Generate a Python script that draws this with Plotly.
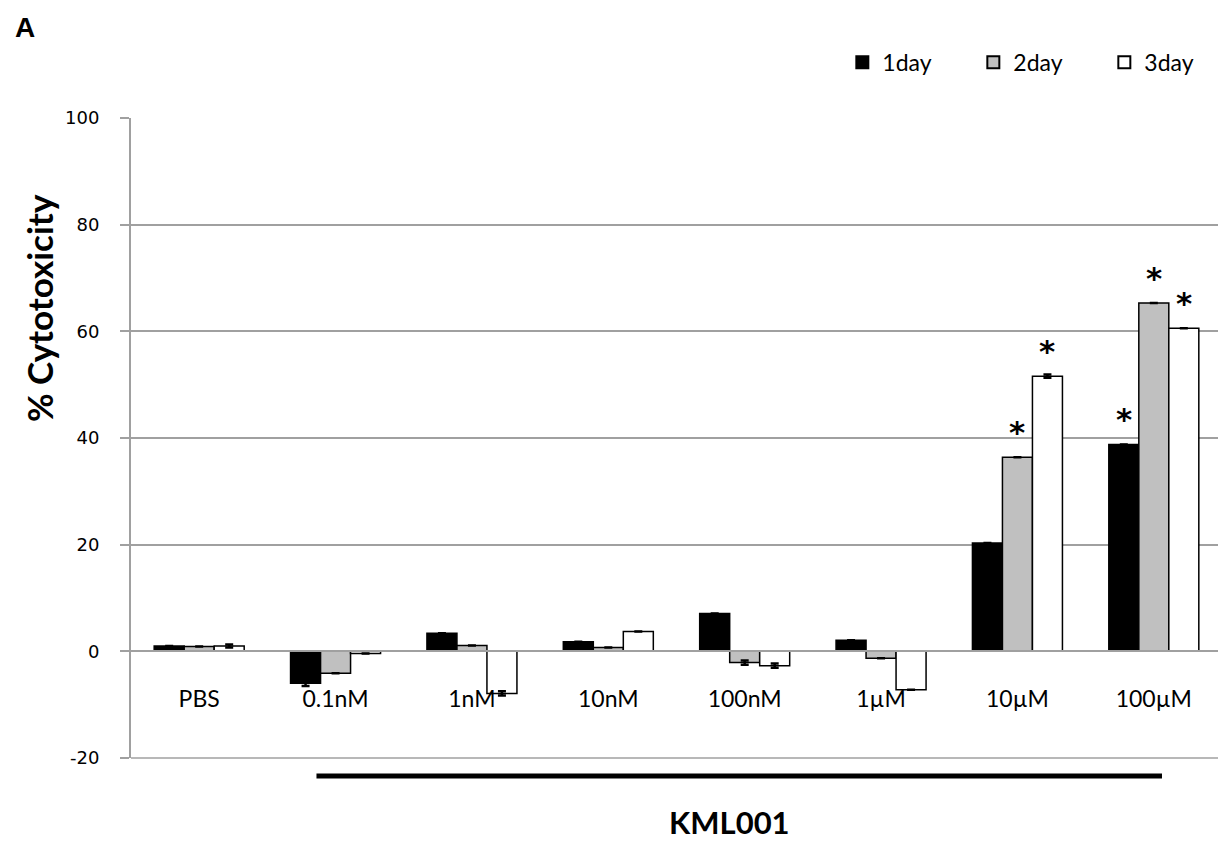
import plotly.graph_objects as go

categories = ["PBS", "0.1nM", "1nM", "10nM", "100nM", "1\u00b5M", "10\u00b5M", "100\u00b5M"]
day1 = [1.0, -6.0, 3.4, 1.8, 7.1, 2.1, 20.3, 38.8]
day2 = [0.9, -4.1, 1.1, 0.7, -2.1, -1.3, 36.4, 65.3]
day3 = [1.0, -0.4, -7.9, 3.7, -2.7, -7.2, 51.6, 60.6]
err1 = [0.0, 0.5, 0.0, 0.0, 0.0, 0.0, 0.0, 0.0]
err2 = [0.0, 0.0, 0.0, 0.0, 0.4, 0.0, 0.0, 0.0]
err3 = [0.3, 0.0, 0.4, 0.0, 0.4, 0.0, 0.3, 0.0]
series_names = ["1day", "2day", "3day"]
# significance marks: (category index, series index)
stars = [(6, 1), (6, 2), (7, 0), (7, 1), (7, 2)]
y_ticks = [-20, 0, 20, 40, 60, 80, 100]
y_ticktext = ["-20", "0", "20", "40", "60", "80", "100"]

fills = ["#000000", "#C0C0C0", "#FFFFFF"]
values = [day1, day2, day3]
errs = [err1, err2, err3]

fig = go.Figure()
for name, vals, er, col in zip(series_names, values, errs, fills):
    fig.add_trace(go.Bar(
        x=categories, y=vals, name=name,
        marker=dict(color=col, line=dict(color="#000000", width=1.5)),
        error_y=dict(type="data", array=er, visible=True, color="#000000",
                     thickness=2.5, width=4),
    ))

bargap = 0.34
bw = (1 - bargap) / 3
for ci, si in stars:
    v = values[si][ci]
    fig.add_annotation(x=ci + (si - 1) * bw, y=v, xref="x", yref="y",
                       text="<b>*</b>", showarrow=False, yanchor="bottom",
                       yshift=5, font=dict(family="DejaVu Sans", size=31, color="#000"))

# bottom gridline at -20 (plot bottom edge)
fig.add_shape(type="line", xref="paper", yref="paper", x0=0, x1=1, y0=0, y1=0,
              line=dict(color="#A0A0A0", width=1.5), layer="below")
# KML001 bracket line and label
fig.add_shape(type="line", xref="x", yref="paper", x0=0.86, x1=7.06,
              y0=-0.028, y1=-0.028, line=dict(color="#000", width=5))
fig.add_annotation(x=0.549, y=-0.1, xref="paper", yref="paper", text="<b>KML001</b>",
                   xanchor="center", yanchor="middle",
                   showarrow=False, font=dict(family="Lato", size=31, color="#000"))
fig.add_annotation(x=-0.0843, y=0.703, xref="paper", yref="paper",
                   text="<b>% Cytotoxicity</b>", textangle=-90, showarrow=False,
                   xanchor="center", yanchor="middle",
                   font=dict(family="Lato", size=35, color="#000"))
fig.add_annotation(x=-0.097, y=1.168, xref="paper", yref="paper", text="<b>A</b>",
                   showarrow=False, xanchor="center", yanchor="top",
                   font=dict(family="Liberation Sans", size=28, color="#000"))

fig.update_layout(
    width=1226, height=841,
    margin=dict(l=123, r=12, t=110, b=91, autoexpand=False),
    paper_bgcolor="white", plot_bgcolor="white",
    barmode="group", bargap=bargap, bargroupgap=0,
    showlegend=True,
    legend=dict(orientation="h", x=0.652, xanchor="left", y=1.087, yanchor="middle",
                font=dict(family="Lato", size=23, color="#000"),
                entrywidth=86, itemsizing="constant"),
    xaxis=dict(anchor="free", position=20 / 120, showline=True, linecolor="#A0A0A0",
               linewidth=2, ticks="", showgrid=False,
               tickfont=dict(family="Lato", size=23, color="#000"),
               ticklabelstandoff=27),
    yaxis=dict(range=[-20, 100], tickvals=y_ticks, ticktext=y_ticktext,
               showgrid=True, gridcolor="#A0A0A0",
               gridwidth=1.5, zeroline=False, showline=True, linecolor="#A0A0A0",
               linewidth=2, ticks="outside", ticklen=9, tickcolor="#A0A0A0", tickwidth=1.5,
               tickfont=dict(family="DejaVu Sans", size=18, color="#000"),
               ticklabelstandoff=17),
)

fig.write_html("out.html")
